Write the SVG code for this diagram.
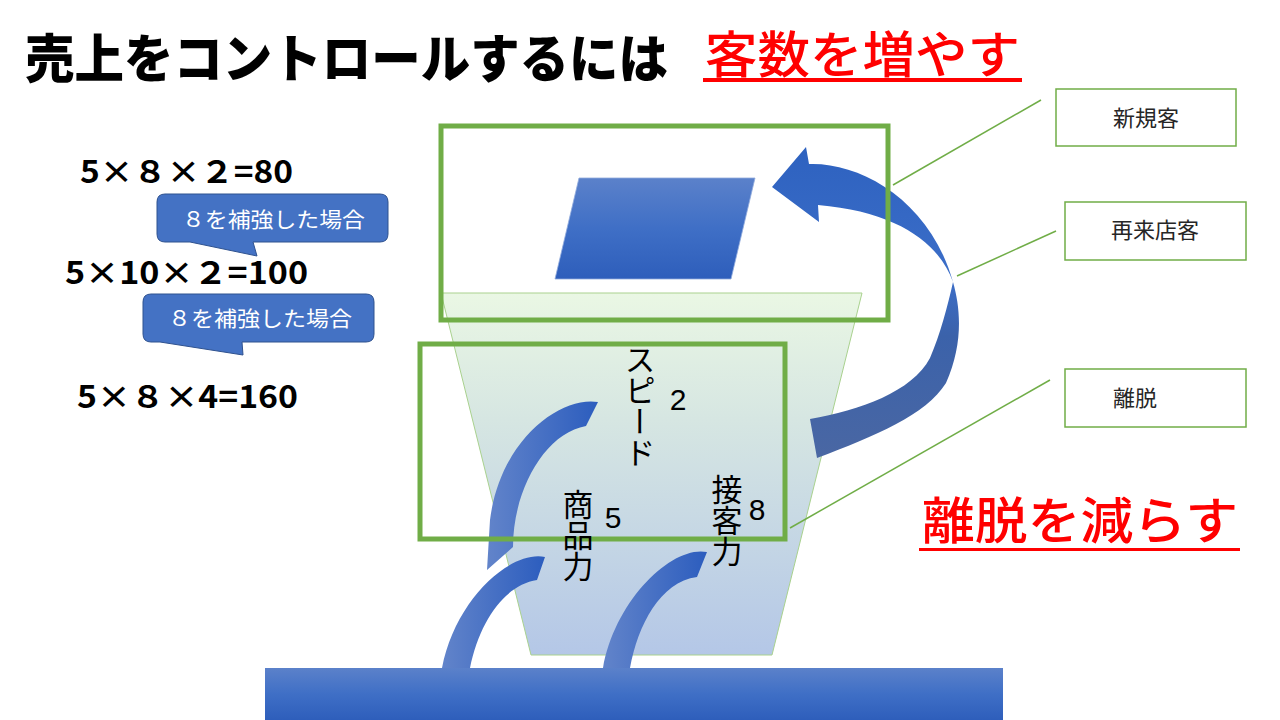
<svg xmlns="http://www.w3.org/2000/svg" width="1280" height="720" viewBox="0 0 1280 720">
  <defs>
    <linearGradient id="gFunnel" x1="0" y1="0" x2="0" y2="1">
      <stop offset="0" stop-color="#EAF7E4"/>
      <stop offset="0.35" stop-color="#D6E6E2"/>
      <stop offset="1" stop-color="#B4C7E7"/>
    </linearGradient>
    <linearGradient id="gBlueV" x1="0" y1="0" x2="0" y2="1">
      <stop offset="0" stop-color="#5B81CA"/>
      <stop offset="0.5" stop-color="#3F6FC6"/>
      <stop offset="1" stop-color="#2E5EBB"/>
    </linearGradient>
    <linearGradient id="gBig" gradientUnits="userSpaceOnUse" x1="0" y1="150" x2="0" y2="460">
      <stop offset="0" stop-color="#2E62C0"/>
      <stop offset="0.42" stop-color="#3C6EC8"/>
      <stop offset="0.6" stop-color="#3B62AA"/>
      <stop offset="1" stop-color="#4A67A3"/>
    </linearGradient>
    <linearGradient id="gSmall" x1="0" y1="0" x2="1" y2="0">
      <stop offset="0" stop-color="#6284CA"/>
      <stop offset="1" stop-color="#2C5DBE"/>
    </linearGradient>
    <style>
      .jp { font-family: "Noto Sans CJK JP", "Noto Sans", sans-serif; }
      .green { fill: none; stroke: #70AD47; stroke-width: 5; }
      .leader { stroke: #70AD47; stroke-width: 1.5; fill: none; }
      .label { fill: #FFFFFF; stroke: #70AD47; stroke-width: 1.5; }
      .labeltxt { font-size: 22px; fill: #262626; text-anchor: middle; }
      .eq { font-family: "Noto Sans CJK JP", "Liberation Sans", sans-serif; font-weight: 700; font-size: 31px; fill: #000; }
      .callout { fill: #4472C4; stroke: #2F528F; stroke-width: 1; }
      .calltxt { font-size: 21px; fill: #FFFFFF; }
      .vt { font-size: 31px; fill: #000; writing-mode: vertical-rl; }
      .num { font-family: "Liberation Sans", sans-serif; font-size: 30px; fill: #000; text-anchor: middle; }
      .red { fill: #FF0000; }
    </style>
  </defs>

  <!-- Title -->
  <g id="title">
    <text class="jp" x="25" y="78" font-size="52" font-weight="900" fill="#000" textLength="643" lengthAdjust="spacingAndGlyphs">売上をコントロールするには</text>
    <text class="jp red" x="705" y="73" font-size="50" font-weight="500" textLength="315" lengthAdjust="spacingAndGlyphs">客数を増やす</text>
    <rect class="red" x="703" y="78" width="319" height="4"/>
  </g>

  <!-- Equations -->
  <g id="equations">
    <text class="eq" x="80" y="183" textLength="213" lengthAdjust="spacingAndGlyphs">5×８×２=80</text>
    <text class="eq" x="65" y="284" textLength="243" lengthAdjust="spacingAndGlyphs">5×10×２=100</text>
    <text class="eq" x="77" y="408" textLength="221" lengthAdjust="spacingAndGlyphs">5×８×4=160</text>
  </g>

  <g id="callout1">
    <path class="callout" d="M165,194 H380 Q388,194 388,202 V234 Q388,242 380,242 H253 L257,256 L190,242 H165 Q157,242 157,234 V202 Q157,194 165,194 Z"/>
    <text class="jp calltxt" x="182" y="227" textLength="183" lengthAdjust="spacingAndGlyphs">８を補強した場合</text>
  </g>
  <g id="callout2">
    <path class="callout" d="M151,294 H366 Q374,294 374,302 V334 Q374,342 366,342 H242 L243,355 L160,342 H151 Q143,342 143,334 V302 Q143,294 151,294 Z"/>
    <text class="jp calltxt" x="168" y="326" textLength="184" lengthAdjust="spacingAndGlyphs">８を補強した場合</text>
  </g>

  <!-- Funnel -->
  <g id="funnel">
    <polygon points="441,293 862,293 772,655 531,655" fill="url(#gFunnel)" stroke="#A9D18E" stroke-width="1"/>
  </g>

  <!-- Parallelogram (customers) -->
  <g id="customers">
    <polygon points="579,178 755,178 731,279 555,279" fill="url(#gBlueV)" stroke="#8FAADC" stroke-width="0.8"/>
  </g>

  <!-- Base bar -->
  <g id="base">
    <rect x="265" y="668" width="738" height="52" fill="url(#gBlueV)"/>
  </g>

  <!-- Connectors -->
  <g id="connectors">
    <path id="bigArrow" fill="url(#gBig)" d="M772,187 L806,147 L809,164 C860,162 930,200 953,282 C961,310 963,345 946,383 C926,415 875,436 817,458 L810,419 C860,410 912,392 930,358 C940,335 948,305 953,282 C940,245 900,212 818,205 L819,222 Z"/>
    <path id="arrow1" fill="url(#gSmall)" d="M598,402 C560,396 500,440 490,520 L487,570 L513,547 C513,490 545,433 586,426 Z"/>
    <path id="arrow2" fill="url(#gSmall)" d="M545,557 C510,550 455,600 442,668 L470,668 C480,620 505,585 537,580 Z"/>
    <path id="arrow3" fill="url(#gSmall)" d="M707,552 C672,545 615,600 603,668 L630,668 C638,625 660,582 697,577 Z"/>
    <line class="leader" x1="893" y1="185" x2="1041" y2="100"/>
    <line class="leader" x1="957" y1="276" x2="1056" y2="231"/>
    <line class="leader" x1="790" y1="528" x2="1050" y2="380"/>
  </g>

  <!-- Green frames -->
  <g id="frameTop">
    <rect class="green" x="441" y="126" width="447" height="194"/>
  </g>
  <g id="frameBottom">
    <rect class="green" x="420" y="344" width="365" height="195"/>
  </g>

  <!-- Funnel labels -->
  <g id="speed">
    <text class="jp vt" x="640" y="344">スピード</text>
    <text class="num" x="678" y="410">2</text>
  </g>
  <g id="product">
    <text class="jp vt" x="578" y="489">商品力</text>
    <text class="num" x="613" y="528">5</text>
  </g>
  <g id="service">
    <text class="jp vt" x="727" y="474">接客力</text>
    <text class="num" x="757" y="520">8</text>
  </g>

  <!-- Right labels -->
  <g id="newCustomer">
    <rect class="label" x="1056" y="89" width="180" height="57"/>
    <text class="jp labeltxt" x="1146" y="126">新規客</text>
  </g>
  <g id="returnCustomer">
    <rect class="label" x="1065" y="202" width="181" height="58"/>
    <text class="jp labeltxt" x="1155" y="238">再来店客</text>
  </g>
  <g id="churn">
    <rect class="label" x="1065" y="369" width="181" height="58"/>
    <text class="jp labeltxt" x="1135" y="406">離脱</text>
  </g>

  <g id="reduceChurn">
    <text class="jp red" x="922" y="539" font-size="50" font-weight="500" textLength="316" lengthAdjust="spacingAndGlyphs">離脱を減らす</text>
    <rect class="red" x="919" y="548" width="321" height="3"/>
  </g>
</svg>
